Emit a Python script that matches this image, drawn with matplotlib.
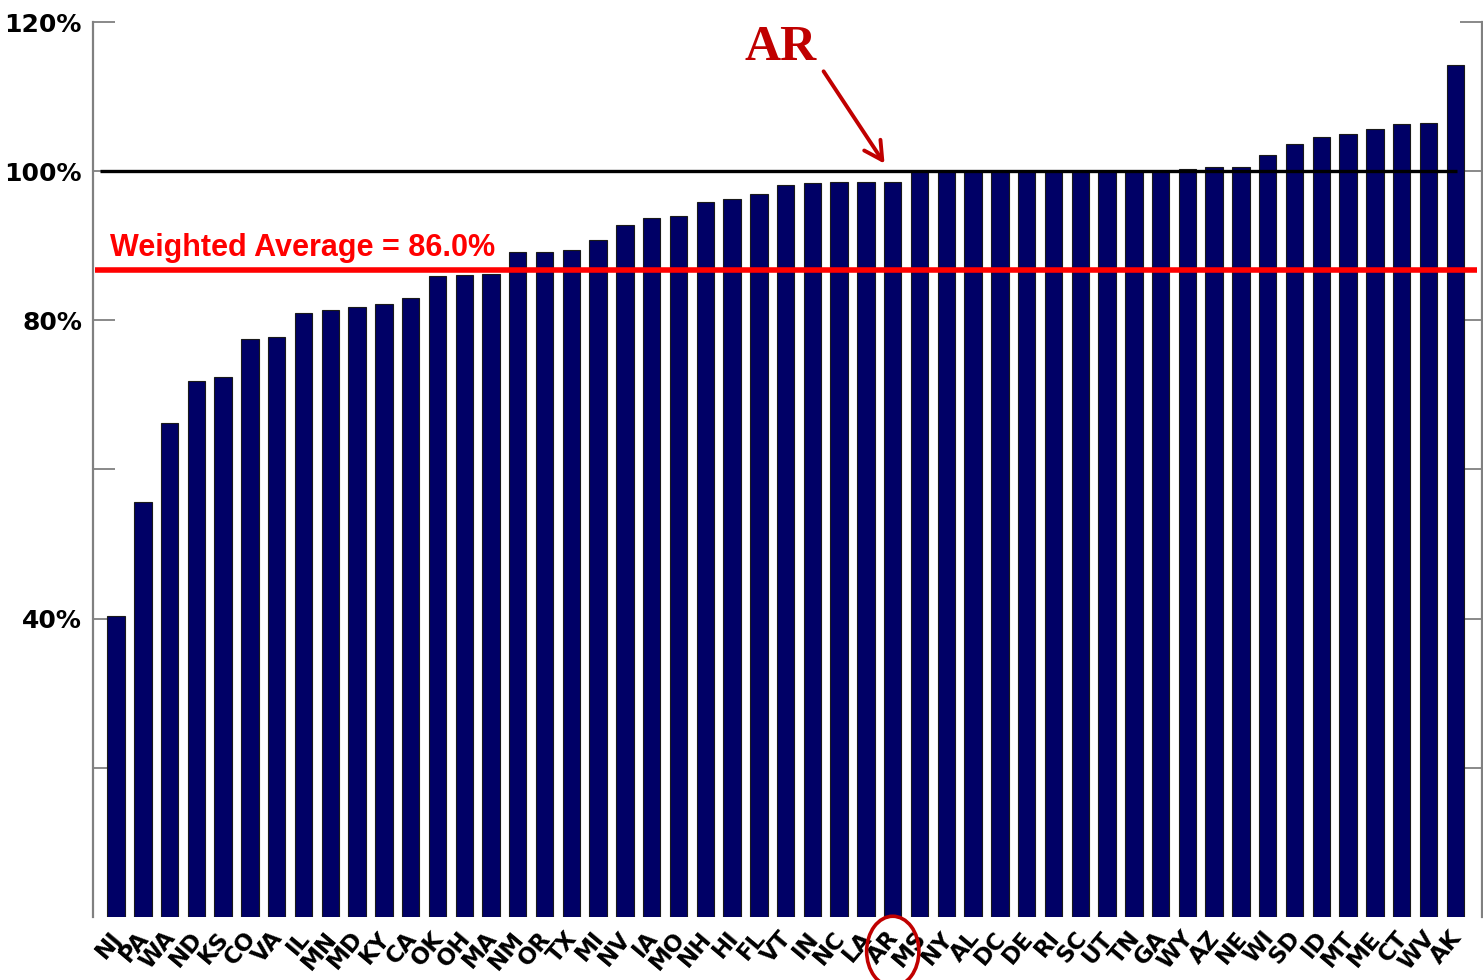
import matplotlib
matplotlib.use("Agg")
import matplotlib.pyplot as plt
import matplotlib.transforms as mtransforms
from matplotlib.patches import Ellipse, FancyArrowPatch
import numpy as np

states = ["NJ", "PA", "WA", "ND", "KS", "CO", "VA", "IL", "MN", "MD", "KY", "CA",
          "OK", "OH", "MA", "NM", "OR", "TX", "MI", "NV", "IA", "MO", "NH", "HI",
          "FL", "VT", "IN", "NC", "LA", "AR", "MS", "NY", "AL", "DC", "DE", "RI",
          "SC", "UT", "TN", "GA", "WY", "AZ", "NE", "WI", "SD", "ID", "MT", "ME",
          "CT", "WV", "AK"]
values = [40.4, 55.6, 66.3, 71.8, 72.4, 77.5, 77.8, 81.0, 81.4, 81.8, 82.2, 83.0,
          85.9, 86.1, 86.2, 89.2, 89.2, 89.4, 90.8, 92.8, 93.7, 94.0, 95.9, 96.3,
          96.9, 98.2, 98.4, 98.5, 98.5, 98.5, 100.0, 100.0, 100.0, 100.0, 100.0, 100.0,
          100.0, 100.0, 100.0, 100.0, 100.3, 100.5, 100.5, 102.2, 103.7, 104.6, 105.0, 105.6,
          106.3, 106.4, 114.3]
weighted_avg_line = 86.7
weighted_avg_label = "Weighted Average = 86.0%"
yticks = [20, 40, 60, 80, 100, 120]
yticklabels = ["", "40%", "", "80%", "100%", "120%"]
highlight = "AR"

W, H = 1483, 980
fig = plt.figure(figsize=(W / 100, H / 100), dpi=100)
ax = fig.add_axes([93 / W, 63 / H, (1482 - 93) / W, (917 - 22) / H])

n = len(states)
x = np.arange(n)
ax.bar(x, values, width=0.65, color="#000066", edgecolor="#1a1a1a", linewidth=0.8, zorder=2)

ax.set_xlim(-0.86, n - 1 + 1.0)
ax.set_ylim(0, 120)

grey = "#808080"
for s in ["top", "bottom"]:
    ax.spines[s].set_visible(False)
for s in ["left", "right"]:
    ax.spines[s].set_color(grey)
    ax.spines[s].set_linewidth(1.6)

ax.set_yticks(yticks)
ax.set_yticklabels(yticklabels, fontfamily="DejaVu Sans", fontweight="bold", fontsize=18)
ax.tick_params(axis="y", direction="in", length=16, width=1.3, color=grey,
               right=True, pad=8)

ax.set_xticks(x)
ax.set_xticklabels(states, rotation=50, ha="right", va="top",
                   fontfamily="DejaVu Sans", fontweight="bold", fontsize=16.5)
ax.tick_params(axis="x", length=0, pad=7)
offset = mtransforms.ScaledTranslation(11 / 100, 0, fig.dpi_scale_trans)
for lab in ax.get_xticklabels():
    lab.set_transform(lab.get_transform() + offset)

# 100% reference line
ax.hlines(100, -0.6, n - 1 + 0.07, color="black", linewidth=2.4, zorder=3)
# weighted average line
ax.hlines(weighted_avg_line, -0.78, n - 1 + 0.8, color="#ff0000", linewidth=4, zorder=3)
ax.text(-0.22, 88.6, weighted_avg_label, color="#ff0000", fontfamily="Liberation Sans",
        fontweight="bold", fontsize=22, va="baseline", ha="left", zorder=4)

# AR annotation
idx = states.index(highlight)
dark_red = "#c00000"
ax.text(idx - 4.2, 114.9, highlight, color=dark_red, fontfamily="Liberation Serif",
        fontweight="bold", fontsize=36, ha="center", va="baseline")
arrow = FancyArrowPatch((idx - 2.64, 113.7), (idx - 0.25, 100.7),
                        arrowstyle="->,head_length=13,head_width=7", color=dark_red,
                        linewidth=2.8, mutation_scale=1, zorder=5)
ax.add_patch(arrow)
ell = Ellipse((idx, -4.6), width=1.95, height=9.4, fill=False, edgecolor=dark_red,
              linewidth=2.6, clip_on=False, zorder=5)
ax.add_patch(ell)

fig.savefig("out.png", dpi=100)
